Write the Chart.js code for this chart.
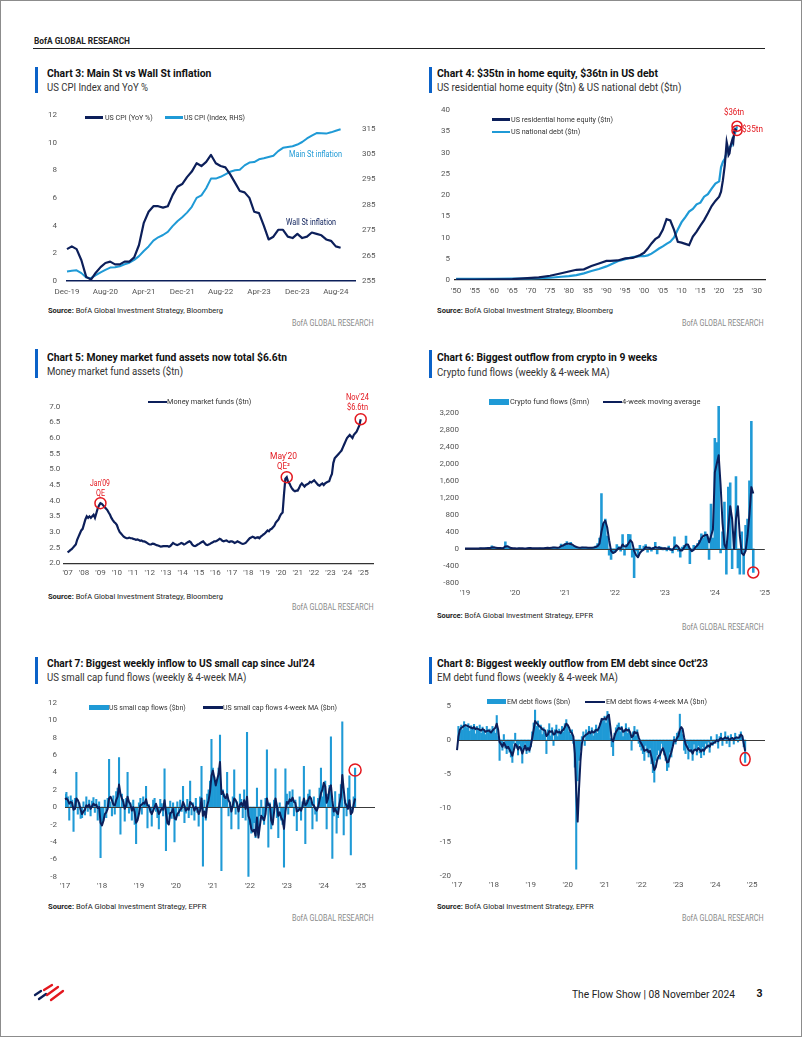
<!DOCTYPE html>
<html><head><meta charset="utf-8">
<script src="https://cdn.jsdelivr.net/npm/chart.js"></script>
<style>
html,body{margin:0;padding:0;background:#fff;}
#page{position:relative;width:802px;height:1037px;overflow:hidden;background:#fff;font-family:'Liberation Sans Narrow',Roboto,sans-serif;}
#frame{position:absolute;left:0;top:0;width:800px;height:1035px;border:1px solid #8c8c8c;z-index:9;pointer-events:none;}
canvas{position:absolute;z-index:1;}
.t{position:absolute;white-space:nowrap;line-height:1;z-index:3;}
.sw{position:absolute;z-index:3;}
</style></head>
<body><div id="page"><div id="frame"></div></div>
<script>
// ---------------- DATA ----------------
// Chart 3: monthly Dec-19 .. Sep-24
const c3TickLabels = ['Dec-19','Aug-20','Apr-21','Dec-21','Aug-22','Apr-23','Dec-23','Aug-24'];
const c3RightTicks = [255,265,275,285,295,305,315];
const c3YoY = [2.3,
 2.5,2.3,1.5,0.3,0.1,0.6,1.0,1.3,1.4,1.2,1.2,1.4,
 1.4,1.7,2.6,4.2,5.0,5.4,5.4,5.3,5.4,6.2,6.8,7.0,
 7.5,7.9,8.5,8.3,8.6,9.1,8.5,8.3,8.2,7.7,7.1,6.5,
 6.4,6.0,5.0,4.9,4.0,3.0,3.2,3.7,3.7,3.2,3.1,3.4,
 3.1,3.2,3.5,3.4,3.3,3.0,2.9,2.5,2.4];
const c3Index = [258.7,
 259.0,259.2,258.1,256.4,256.1,257.3,258.4,259.4,260.3,260.4,260.8,261.6,
 262.2,263.3,264.8,266.8,268.6,270.9,272.2,273.1,274.3,276.6,278.5,280.1,
 281.9,284.2,287.7,288.7,291.5,295.3,295.3,296.0,297.0,298.0,298.6,298.8,
 300.5,301.6,301.8,302.9,303.3,303.8,304.3,306.1,307.4,307.7,308.0,308.7,
 309.7,311.1,312.2,313.2,313.1,313.0,313.5,314.1,314.7];

// Chart 4: $tn
const c4TickYears = [1950,1955,1960,1965,1970,1975,1980,1985,1990,1995,2000,2005,2010,2015,2020,2025,2030];
const c4TickLabels = ["'50","'55","'60","'65","'70","'75","'80","'85","'90","'95","'00","'05","'10","'15","'20","'25","'30"];
const c4Years = [1950,1955,1960,1965,1970,1972,1975,1978,1980,1982,1984,1986,1988,1990,1991,1993,1995,1997,1999,2000,
 2001,2002,2003,2004,2005,2006,2007,2008,2009,2010,2011,2012,2013,2014,2015,2016,2017,2018,2019,
 2020,2020.5,2021,2021.5,2022,2022.25,2022.5,2022.75,2023,2023.25,2023.5,2023.75,2024,2024.25,2024.5,2024.75];
const c4Equity = [0.1,0.12,0.15,0.2,0.5,0.6,1.0,1.6,2.0,2.4,2.5,3.3,3.9,4.5,4.5,4.6,5.1,5.2,5.9,6.4,
 7.4,8.6,9.6,10.2,11.8,14.3,14.0,11.8,9.0,8.8,8.5,8.2,10.2,11.4,12.8,14.1,15.7,17.4,18.6,
 19.6,20.8,23.5,27.0,32.5,31.4,29.4,29.8,31.4,32.2,33.0,32.4,34.9,35.5,35.3,35.2];
const c4Debt = [0.26,0.27,0.29,0.32,0.37,0.43,0.53,0.77,0.91,1.14,1.57,2.12,2.6,3.2,3.6,4.4,4.9,5.4,5.6,5.6,
 5.8,6.2,6.8,7.4,7.9,8.5,9.0,10.0,11.9,13.6,14.8,16.1,16.7,17.8,18.2,19.6,20.2,21.5,22.7,
 23.2,26.5,27.8,28.5,30.0,30.4,30.6,31.2,31.4,31.5,32.3,33.5,34.0,34.6,35.3,36.2];

// Chart 5: monthly Jan-07 .. Nov-24, $tn
const c5StartYear = 2007;
const c5TickYears = [2007,2008,2009,2010,2011,2012,2013,2014,2015,2016,2017,2018,2019,2020,2021,2022,2023,2024,2025];
const c5TickLabels = ["'07","'08","'09","'10","'11","'12","'13","'14","'15","'16","'17","'18","'19","'20","'21","'22","'23","'24","'25"];
const c5MMF = [
 2.35,2.38,2.42,2.45,2.50,2.55,2.60,2.75,2.85,2.95,3.05,3.10,
 3.25,3.40,3.50,3.45,3.50,3.45,3.50,3.55,3.45,3.60,3.75,3.85,
 3.92,3.90,3.85,3.80,3.75,3.70,3.62,3.55,3.45,3.38,3.32,3.28,
 3.22,3.10,3.00,2.95,2.90,2.85,2.82,2.80,2.80,2.82,2.80,2.80,
 2.78,2.77,2.75,2.76,2.74,2.72,2.73,2.70,2.70,2.68,2.65,2.62,
 2.60,2.60,2.63,2.62,2.60,2.58,2.57,2.55,2.53,2.54,2.55,2.55,
 2.55,2.55,2.53,2.55,2.60,2.65,2.62,2.60,2.58,2.60,2.62,2.65,
 2.63,2.60,2.62,2.65,2.68,2.70,2.67,2.60,2.56,2.55,2.57,2.60,
 2.62,2.65,2.68,2.70,2.65,2.60,2.58,2.60,2.62,2.65,2.67,2.70,
 2.70,2.72,2.75,2.78,2.76,2.72,2.70,2.72,2.73,2.70,2.68,2.70,
 2.70,2.68,2.65,2.67,2.70,2.68,2.66,2.63,2.62,2.63,2.65,2.70,
 2.75,2.80,2.82,2.85,2.83,2.80,2.82,2.83,2.80,2.85,2.88,2.92,
 2.95,3.00,3.05,3.02,3.08,3.10,3.15,3.20,3.30,3.35,3.40,3.50,
 3.58,3.62,4.20,4.70,4.75,4.60,4.55,4.45,4.38,4.33,4.30,4.32,
 4.32,4.40,4.50,4.55,4.50,4.45,4.50,4.52,4.55,4.60,4.58,4.62,
 4.65,4.60,4.55,4.50,4.48,4.52,4.55,4.50,4.55,4.58,4.60,4.62,
 4.75,4.85,5.20,5.35,5.40,5.45,5.50,5.55,5.60,5.70,5.80,5.90,
 6.00,6.05,6.10,6.05,6.00,6.10,6.15,6.20,6.30,6.40,6.60];
const c5MarkMonths = [24,160,214]; // Jan'09, May'20, Nov'24

// Chart 6: crypto fund flows ($mn), bi-weekly from Jan-19
const c6TickLabels = ["'19","'20","'21","'22","'23","'24","'25"];
const c6Flows = [
 5,8,6,10,5,12,8,6,15,12,10,20,25,15,70,25,10,15,20,12,30,160,25,10,15,8,
 10,5,15,8,10,5,12,20,15,10,8,12,10,15,8,12,20,25,15,30,40,25,20,30,110,60,
 120,170,80,150,60,40,30,25,20,40,30,20,15,25,30,40,60,120,250,1300,600,700,300,-150,-250,-100,
 -80,100,50,-60,330,-150,100,340,330,-200,-680,-50,-150,80,-40,60,100,-80,40,-60,30,150,-120,50,40,-30,
 20,-50,60,-40,-100,280,50,-60,-200,40,80,300,60,-350,-60,80,40,120,200,350,250,400,300,-250,1050,250,
 2600,2500,3350,-100,400,1100,-600,1450,1550,-470,400,1700,-450,-600,400,-600,550,700,1600,3000,-560];
const c6MA = [
 3,5,6,7,6,8,8,7,10,11,11,14,18,17,30,35,25,15,16,14,18,55,60,35,15,10,
 10,8,10,9,10,8,10,14,15,12,10,11,10,12,10,11,16,20,18,24,30,28,24,28,60,75,
 100,120,115,110,95,60,40,30,25,28,30,27,22,20,24,30,40,60,120,400,600,660,500,200,-50,-100,
 -80,-30,20,10,100,50,60,120,200,150,-50,-150,-200,-100,-50,-20,40,20,20,0,10,40,20,30,10,10,
 10,0,10,-20,-30,40,80,40,-40,-40,30,100,100,0,-60,-30,40,80,150,250,300,320,330,150,300,450,
 1800,2000,2200,1500,600,100,0,500,1000,700,0,700,1000,300,-100,-150,-50,300,800,1450,1300];
const c6YTicks = [-800,-400,0,400,800,1200,1600,2000,2400,2800,3200];

// Chart 7: US small cap flows ($bn), bi-weekly from Jan-17
const c7TickLabels = ["'17","'18","'19","'20","'21","'22","'23","'24","'25"];
const c7Flows = [
 1.5,1.7,1.2,-1.5,1.3,0.8,-2.8,1.0,4.0,-0.8,0.5,-1.3,-1.2,0.6,-0.9,1.2,-0.5,0.8,-1.0,0.7,1.1,-0.6,0.9,-1.5,0.6,-5.8,
 -2.0,-1.5,0.8,-1.2,1.0,5.5,0.6,-1.0,1.3,-0.8,1.8,2.2,5.7,-3.1,1.5,0.9,-1.6,1.0,4.0,-0.7,0.5,-1.5,0.8,-2.0,-4.2,-1.2,
 0.5,1.0,-0.8,1.2,0.6,2.4,-2.4,0.3,-0.6,-2.2,0.8,1.0,-0.5,-1.2,-2.5,0.9,0.4,-1.0,4.4,-5.0,-1.6,-0.8,0.7,-1.3,0.5,-4.0,
 -1.5,0.6,-1.0,0.8,-0.5,2.4,-1.8,-0.7,0.9,-1.2,3.0,-0.9,0.5,-1.5,1.0,-0.6,-2.2,1.2,4.7,-6.8,0.8,-1.5,1.5,2.0,3.0,7.8,
 4.5,3.5,2.5,3.0,4.5,8.3,-7.3,2.0,1.5,0.8,4.0,-1.0,0.5,-2.5,1.2,4.3,-0.8,0.6,-2.5,1.5,0.9,-1.2,2.0,-1.5,8.6,-8.0,
 -2.0,-3.0,-2.5,-1.8,-3.5,2.2,-3.2,-1.0,0.8,-1.5,-2.0,1.0,6.6,-4.6,0.5,-2.5,-1.8,0.8,4.4,-1.2,-3.5,0.5,-1.5,-2.0,-6.9,4.4,
 1.5,-0.8,1.8,0.6,2.0,-1.0,0.8,-2.7,-0.5,1.2,-1.5,0.6,4.7,-4.2,0.8,1.5,2.0,0.6,-2.5,1.2,-0.8,-1.6,1.0,2.2,4.5,1.2,
 2.5,3.0,-2.5,1.5,2.5,8.1,-5.9,-1.0,1.8,-3.0,-1.2,1.5,2.6,9.8,-3.2,0.8,-1.0,2.2,3.6,-5.5,-0.5,1.2,4.5];
const c7MA = [
 0.9,1.0,0.8,0.4,0.6,0.5,-0.3,-0.2,1.0,0.8,0.4,-0.3,-0.8,-0.5,-0.3,0.2,0.1,0.3,-0.2,0.1,0.4,0.2,0.3,-0.1,0.0,-1.8,
 -2.1,-1.6,-0.8,-0.6,-0.2,1.0,1.2,0.8,0.3,0.2,0.8,1.2,2.6,1.5,1.0,0.6,-0.2,0.2,1.2,0.6,0.3,-0.4,0.0,-0.6,-1.8,-1.5,
 -0.8,0.2,0.3,0.5,0.4,0.9,0.2,0.1,-0.4,-0.8,-0.4,0.0,0.4,-0.2,-0.8,-0.5,-0.1,-0.3,0.8,-0.6,-1.8,-2.0,-0.7,-0.6,-0.2,-1.3,
 -1.4,-0.8,-0.6,-0.3,-0.1,0.6,0.2,-0.4,-0.2,-0.3,0.6,0.4,0.2,-0.4,0.0,-0.2,-0.8,-0.4,1.0,-1.0,-0.5,-1.2,0.2,0.8,1.8,3.6,
 4.2,3.4,2.5,3.2,3.8,5.2,1.5,1.8,1.2,1.0,1.5,0.8,0.5,-0.5,0.2,1.0,0.8,0.4,-0.5,0.3,0.5,0.1,0.8,-0.2,1.2,-1.0,
 -1.5,-2.5,-2.8,-2.6,-3.3,-1.2,-3.5,-2.2,-1.0,-1.2,-1.5,-0.8,1.0,0.2,0.3,-1.5,-2.0,-0.6,1.0,0.2,-1.0,-0.6,-1.2,-1.5,-2.5,-0.5,
 0.6,0.4,0.9,0.7,1.1,0.6,0.5,-0.5,-0.4,-0.2,-0.4,0.1,1.0,0.2,0.4,0.8,1.2,1.0,0.3,0.2,-0.2,-0.4,0.0,0.8,1.6,2.0,
 2.8,2.4,0.5,1.0,2.1,2.5,0.8,-0.5,-0.2,-0.6,-0.8,0.4,1.2,3.7,2.0,0.5,0.2,-0.2,0.8,-0.8,-0.6,0.3,1.0];
const c7YTicks = [-8,-6,-4,-2,0,2,4,6,8,10,12];

// Chart 8: EM debt flows ($bn), bi-weekly from Jan-17
const c8TickLabels = ["'17","'18","'19","'20","'21","'22","'23","'24","'25"];
const c8Flows = [
 -1.4,2.0,1.2,2.2,1.5,2.7,2.0,1.8,2.4,1.3,2.1,1.6,2.3,0.9,2.0,1.4,2.2,1.0,1.9,1.5,0.8,2.0,1.2,1.6,1.0,2.0,
 1.5,1.0,3.6,0.5,-3.0,-0.5,-1.5,0.8,-1.2,-2.0,-0.8,-1.8,-2.5,-3.3,-0.5,1.0,-1.2,-2.2,-0.6,-1.5,-3.4,-1.0,-0.5,-2.0,-1.2,-1.8,
 -1.0,1.2,2.5,4.4,2.0,2.8,1.5,2.2,0.8,1.8,1.0,-2.0,1.5,2.4,0.6,1.8,-0.8,1.5,2.2,0.5,1.6,1.0,2.0,1.2,2.4,3.0,
 2.0,1.2,0.8,1.5,-0.5,-4.0,-19.0,-6.0,-3.0,-1.5,0.5,1.2,-0.8,1.5,0.8,2.0,1.0,1.8,0.6,1.5,2.2,1.0,1.8,2.5,3.2,2.8,
 3.5,2.5,4.2,3.8,0.2,-1.0,-2.3,1.0,1.8,2.2,2.5,1.2,2.0,0.5,1.5,2.4,1.0,1.8,0.8,-1.5,1.2,2.0,0.6,1.5,-0.5,-1.0,
 -1.5,-2.0,-3.0,-0.8,-1.8,-2.5,-1.2,-3.5,-4.8,-6.2,-3.0,-2.2,-1.5,-2.8,-0.5,-1.0,-2.2,-3.0,-4.5,-4.0,-1.8,-2.5,-0.8,0.5,-0.6,1.0,
 1.2,3.8,1.5,0.8,-1.5,-2.0,-0.5,-2.8,-1.2,-1.8,-3.0,-0.6,-1.5,-2.2,-0.8,-1.9,-2.6,-1.0,-2.2,-0.5,-1.2,-0.3,-1.8,0.5,-0.8,-0.2,
 -0.5,0.8,-1.2,0.5,1.0,-0.8,0.3,1.2,-0.5,0.6,-1.0,0.8,0.2,-0.6,1.0,0.4,-0.3,0.8,1.2,0.5,-1.0,-3.3];
const c8MA = [
 -1.5,0.5,1.5,1.8,1.9,2.1,2.2,2.1,2.0,1.9,1.8,1.7,1.9,1.6,1.7,1.6,1.5,1.4,1.6,1.5,1.2,1.3,1.4,1.3,1.1,1.4,
 1.6,1.8,2.4,1.5,-0.3,-0.6,-1.0,-0.4,-0.8,-1.2,-1.0,-1.4,-1.8,-2.3,-1.5,-0.6,-0.8,-1.4,-1.0,-1.2,-2.0,-1.4,-0.8,-1.5,-1.2,-1.5,
 -0.8,0.3,1.5,2.8,2.5,2.3,2.0,1.9,1.6,1.5,1.4,0.6,0.8,1.3,1.2,1.3,0.8,0.9,1.4,1.1,1.2,1.0,1.4,1.5,1.9,2.4,
 2.2,1.8,1.2,1.0,0.5,-2.0,-7.5,-12.0,-7.0,-3.0,-0.5,0.4,0.6,0.8,0.9,1.2,1.0,1.3,1.1,1.2,1.5,1.4,1.8,2.4,3.1,3.0,
 3.2,3.0,3.5,3.7,2.0,0.1,-0.2,0.6,1.2,1.5,1.8,1.6,1.8,1.2,1.3,1.6,1.4,1.5,1.1,0.4,0.6,1.2,1.0,1.1,0.4,-0.2,
 -0.6,-1.0,-1.6,-1.5,-1.4,-1.8,-1.6,-2.5,-3.5,-4.4,-4.0,-3.0,-2.4,-2.2,-1.6,-1.2,-1.8,-2.5,-3.3,-3.2,-2.4,-1.8,-1.0,0.0,-0.2,0.3,
 0.6,1.5,1.9,1.6,0.4,-0.6,-1.0,-1.4,-1.6,-1.5,-2.0,-1.5,-1.4,-1.6,-1.2,-1.4,-1.7,-1.4,-1.6,-1.2,-1.0,-0.8,-1.0,-0.5,-0.6,-0.4,
 -0.3,0.0,-0.2,0.1,0.3,0.1,0.2,0.4,0.2,0.3,0.0,0.2,0.3,0.1,0.3,0.4,0.3,0.4,0.8,0.6,-0.5,-1.6];
const c8YTicks = [-20,-15,-10,-5,0,5];

// ---------------- DRAWING ----------------
const NAVY = '#0c1f5a', LIGHT = '#1f9ad6', RED = '#e3171e', TC = '#555', BLUEBAR = '#0b62c8';
const TF = {family: "'Liberation Sans Narrow', Roboto, sans-serif", size: 8};
const page = document.getElementById('page');

function T(s, x, base, size, o = {}) {
  const el = document.createElement('div');
  el.className = 't';
  if (o.html) el.innerHTML = s; else el.textContent = s;
  el.style.fontSize = size + 'px';
  el.style.fontWeight = o.bold ? '700' : '400';
  el.style.color = o.color || '#1a1a1a';
  el.style.top = (base - 0.85 * size) + 'px';
  el.style.left = '0px';
  page.appendChild(el);
  const nat = el.getBoundingClientRect().width;
  const w = o.w || nat;
  let left = x;
  if (o.align === 'right') left = x - w;
  if (o.align === 'center') left = x - w / 2;
  el.style.left = left + 'px';
  if (o.w) { el.style.transformOrigin = '0 0'; el.style.transform = 'scaleX(' + (o.w / nat) + ')'; }
  return el;
}
function R(x, y, w, h, c) {
  const d = document.createElement('div');
  d.className = 'sw';
  Object.assign(d.style, {left: x + 'px', top: y + 'px', width: w + 'px', height: h + 'px', background: c});
  page.appendChild(d);
}
function mk(x, y, w, h) {
  const c = document.createElement('canvas');
  c.width = w; c.height = h;
  Object.assign(c.style, {left: x + 'px', top: y + 'px', width: w + 'px', height: h + 'px'});
  page.appendChild(c);
  return c.getContext('2d');
}
const fixW = w => s => { s.width = w; };
const fixH = h => s => { s.height = h; };
const noGrid = {display: false, drawTicks: false, tickLength: 0};
const baseOpts = {responsive: false, animation: false, devicePixelRatio: 1, events: []};

function marksPlugin(items) {
  return {
    id: 'marks',
    afterDatasetsDraw(chart) {
      const {ctx, scales: {x, y}} = chart;
      items.forEach(m => {
        ctx.save();
        ctx.strokeStyle = RED; ctx.lineWidth = 1.5;
        ctx.beginPath();
        ctx.ellipse(x.getPixelForValue(m.x), y.getPixelForValue(m.y), m.rx, m.ry, 0, 0, Math.PI * 2);
        ctx.stroke();
        ctx.restore();
      });
    }
  };
}
const zeroPlugin = {
  id: 'zero',
  afterDatasetDraw(chart, args) {
    if (args.meta.type !== 'bar') return;
    const {ctx, chartArea: {left, right}, scales: {y}} = chart;
    const py = Math.round(y.getPixelForValue(0)) + 0.5;
    ctx.save();
    ctx.strokeStyle = '#3a3a3a'; ctx.lineWidth = 1.2;
    ctx.beginPath(); ctx.moveTo(left, py); ctx.lineTo(right, py); ctx.stroke();
    ctx.restore();
  }
};

// ---- Chart 3 ----
new Chart(mk(30, 100, 370, 205), {
  type: 'line',
  data: {
    labels: Array.from({length: 61}, (_, i) => i),
    datasets: [
      {data: c3YoY, yAxisID: 'y', borderColor: NAVY, borderWidth: 2.2, pointRadius: 0, tension: 0, borderJoinStyle: 'round'},
      {data: c3Index, yAxisID: 'y1', borderColor: LIGHT, borderWidth: 2, pointRadius: 0, tension: 0, borderJoinStyle: 'round'}
    ]
  },
  options: Object.assign({}, baseOpts, {
    layout: {padding: {top: 9, left: 0, right: 0, bottom: 0}},
    plugins: {legend: {display: false}, tooltip: {enabled: false}},
    scales: {
      x: {type: 'category', offset: false, grid: noGrid, border: {display: true, color: NAVY, width: 1.5},
          ticks: {autoSkip: false, maxRotation: 0, padding: 6, color: TC, font: TF,
                  callback: (v, i) => i % 8 === 0 ? c3TickLabels[i / 8] : ''}, afterFit: fixH(24)},
      y: {position: 'left', min: 0, max: 12, grid: noGrid, border: {display: false},
          ticks: {stepSize: 2, padding: 10, color: TC, font: TF}, afterFit: fixW(37)},
      y1: {position: 'right', min: 255, max: 320.4, grid: noGrid, border: {display: false},
           ticks: {padding: 7, color: TC, font: TF},
           afterBuildTicks: s => { s.ticks = c3RightTicks.map(v => ({value: v})); }, afterFit: fixW(45)}
    }
  })
});

// ---- Chart 4 ----
const c4Last = c4Years.length - 1;
new Chart(mk(430, 100, 345, 205), {
  type: 'line',
  data: {
    datasets: [
      {data: c4Years.map((x, i) => ({x, y: c4Equity[i]})), borderColor: NAVY, borderWidth: 2.2, pointRadius: 0, tension: 0},
      {data: c4Years.map((x, i) => ({x, y: c4Debt[i]})), borderColor: LIGHT, borderWidth: 2.2, pointRadius: 0, tension: 0}
    ]
  },
  options: Object.assign({}, baseOpts, {
    layout: {padding: {top: 10, right: 10, left: 0, bottom: 0}},
    plugins: {legend: {display: false}, tooltip: {enabled: false}},
    scales: {
      x: {type: 'linear', min: 1949.7, max: 2032.2, grid: noGrid, border: {display: true, color: '#222', width: 1.2},
          ticks: {padding: 6, color: TC, font: TF, maxRotation: 0, autoSkip: false,
                  callback: v => c4TickLabels[c4TickYears.indexOf(v)]},
          afterBuildTicks: s => { s.ticks = c4TickYears.map(v => ({value: v})); }, afterFit: fixH(25)},
      y: {min: 0, max: 40, grid: noGrid, border: {display: false},
          ticks: {stepSize: 5, padding: 5, color: TC, font: TF}, afterFit: fixW(25)}
    }
  }),
  plugins: [marksPlugin([
    {x: c4Years[c4Last], y: c4Debt[c4Last], rx: 5, ry: 5},
    {x: c4Years[c4Last], y: c4Equity[c4Last], rx: 5, ry: 5}
  ])]
});

// ---- Chart 5 ----
const c5Points = c5MMF.map((y, i) => ({x: c5StartYear + i / 12, y}));
new Chart(mk(30, 385, 350, 200), {
  type: 'line',
  data: {datasets: [{data: c5Points, borderColor: NAVY, borderWidth: 2.2, pointRadius: 0, tension: 0}]},
  options: Object.assign({}, baseOpts, {
    layout: {padding: {top: 21.7, right: 6.7, left: 0, bottom: 0}},
    plugins: {legend: {display: false}, tooltip: {enabled: false}},
    scales: {
      x: {type: 'linear', min: 2006.74, max: 2025.6, grid: noGrid, border: {display: true, color: '#333', width: 1.2},
          ticks: {padding: 5, color: TC, font: TF, maxRotation: 0, autoSkip: false,
                  callback: v => c5TickLabels[c5TickYears.indexOf(v)]},
          afterBuildTicks: s => { s.ticks = c5TickYears.map(v => ({value: v})); }, afterFit: fixH(21.7)},
      y: {min: 2, max: 7, grid: noGrid, border: {display: false},
          ticks: {stepSize: 0.5, padding: 3, color: TC, font: TF, callback: v => v.toFixed(1)}, afterFit: fixW(33.3)}
    }
  }),
  plugins: [marksPlugin(c5MarkMonths.map(i => ({x: c5Points[i].x, y: c5Points[i].y, rx: 5.5, ry: 5.5})))]
});

// ---- Flow charts (6,7,8) ----
function flowChart(box, o) {
  const last = o.flows.length - 1;
  return new Chart(mk(box[0], box[1], box[2], box[3]), {
    type: 'bar',
    data: {
      labels: Array.from({length: o.slots}, (_, i) => i),
      datasets: [
        {type: 'line', data: o.ma, borderColor: NAVY, borderWidth: 2, pointRadius: 0, tension: 0, order: 0, borderJoinStyle: 'round'},
        {type: 'bar', data: o.flows, backgroundColor: LIGHT, borderWidth: 0, barPercentage: 1, categoryPercentage: 1, order: 1}
      ]
    },
    options: Object.assign({}, baseOpts, {
      layout: {padding: {top: o.top, right: o.right, left: 0, bottom: 0}},
      plugins: {legend: {display: false}, tooltip: {enabled: false}},
      scales: {
        x: {type: 'category', offset: false, grid: Object.assign({offset: false}, noGrid), border: {display: false},
            ticks: {autoSkip: false, maxRotation: 0, padding: o.xPad, color: TC, font: TF,
                    callback: (v, i) => i % 26 === 0 ? o.tickLabels[i / 26] : ''}, afterFit: fixH(o.xH)},
        y: {min: o.min, max: o.max, grid: noGrid, border: {display: false},
            ticks: {padding: o.yPad, color: TC, font: TF, callback: o.fmt},
            afterBuildTicks: s => { s.ticks = o.yTicks.map(v => ({value: v})); }, afterFit: fixW(o.yW)}
      }
    }),
    plugins: [zeroPlugin, marksPlugin([{x: last, y: o.flows[last] * o.markK, rx: o.rx, ry: o.ry}])]
  });
}
flowChart([430, 385, 345, 215], {slots: 157, tickLabels: c6TickLabels, flows: c6Flows, ma: c6MA, min: -800, max: 3600,
  yTicks: c6YTicks, fmt: v => v.toLocaleString('en-US'), yW: 35, yPad: 6, xH: 17.3, xPad: 5, top: 4.8, right: 10, markK: 1, rx: 5.5, ry: 5.5});
flowChart([30, 690, 360, 205], {slots: 219, tickLabels: c7TickLabels, flows: c7Flows, ma: c7MA, min: -8, max: 12,
  yTicks: c7YTicks, fmt: v => String(v), yW: 35, yPad: 8, xH: 18.3, xPad: 4, top: 8.3, right: 15, markK: 0.95, rx: 6, ry: 6});
flowChart([430, 690, 345, 205], {slots: 218, tickLabels: c8TickLabels, flows: c8Flows, ma: c8MA, min: -20, max: 5,
  yTicks: c8YTicks, fmt: v => String(v), yW: 27, yPad: 6, xH: 19, xPad: 4, top: 16, right: 10, markK: 0.85, rx: 5, ry: 6.5});

// ---------------- TEXT & DECORATION ----------------
T('BofA GLOBAL RESEARCH', 34, 44.5, 8.5, {bold: 1, w: 96, color: '#222'});
R(33, 47.5, 732, 1.5, '#222');

// blue title bars
R(35, 66.7, 3.3, 26.6, BLUEBAR); R(429, 66.7, 3, 26.6, BLUEBAR);
R(35, 348.5, 3.3, 29, BLUEBAR); R(429, 349.5, 3, 28.5, BLUEBAR);
R(35, 656.5, 3.3, 27, BLUEBAR); R(429, 656.5, 3, 27, BLUEBAR);

// titles
T('Chart 3: Main St vs Wall St inflation', 47.3, 78.3, 11.7, {bold: 1, w: 164.4, color: '#111'});
T('Chart 4: $35tn in home equity, $36tn in US debt', 437.3, 78.3, 11.7, {bold: 1, w: 221, color: '#111'});
T('Chart 5: Money market fund assets now total $6.6tn', 47.3, 361.7, 11.7, {bold: 1, w: 240, color: '#111'});
T('Chart 6: Biggest outflow from crypto in 9 weeks', 437.3, 361.7, 11.7, {bold: 1, w: 220.4, color: '#111'});
T("Chart 7: Biggest weekly inflow to US small cap since Jul'24", 47.3, 668.3, 11.7, {bold: 1, w: 267.7, color: '#111'});
T("Chart 8: Biggest weekly outflow from EM debt since Oct'23", 437.3, 668.3, 11.7, {bold: 1, w: 271, color: '#111'});
// subtitles
T('US CPI Index and YoY %', 47.3, 91.7, 11.7, {w: 101, color: '#333'});
T('US residential home equity ($tn) & US national debt ($tn)', 437.3, 91.7, 11.7, {w: 244.4, color: '#333'});
T('Money market fund assets ($tn)', 47.3, 376, 11.7, {w: 136, color: '#333'});
T('Crypto fund flows (weekly & 4-week MA)', 437.3, 376.7, 11.7, {w: 172.7, color: '#333'});
T('US small cap fund flows (weekly & 4-week MA)', 47.3, 681.7, 11.7, {w: 199.4, color: '#333'});
T('EM debt fund flows (weekly & 4-week MA)', 437.3, 681.7, 11.7, {w: 181, color: '#333'});

// sources
const SB = '<b>Source:</b> BofA Global Investment Strategy, ';
T(SB + 'Bloomberg', 48.3, 313.3, 8, {html: 1, w: 175, color: '#222'});
T(SB + 'Bloomberg', 437.3, 313.3, 8, {html: 1, w: 176, color: '#222'});
T(SB + 'Bloomberg', 48.3, 599.3, 8, {html: 1, w: 175, color: '#222'});
T(SB + 'EPFR', 437.3, 618.3, 8, {html: 1, w: 156, color: '#222'});
T(SB + 'EPFR', 48.3, 910, 8, {html: 1, w: 158.4, color: '#222'});
T(SB + 'EPFR', 437.3, 910, 8, {html: 1, w: 156.7, color: '#222'});
[[373.3, 326], [763.3, 326], [373.3, 610.7], [763.3, 630], [373.3, 921.7], [763.3, 921.7]].forEach(p =>
  T('BofA GLOBAL RESEARCH', p[0], p[1], 8.5, {w: 81.6, align: 'right', color: '#8a8a8a'}));

// legends
const LS = 7.5, LC = '#333';
R(85, 116, 18.3, 2.5, NAVY); T('US CPI (YoY %)', 105, 120, LS, {w: 47.7, color: LC});
R(165, 116, 18.3, 2.5, LIGHT); T('US CPI (Index, RHS)', 184, 120, LS, {w: 61, color: LC});
R(491.7, 118, 18.3, 2.5, NAVY); T('US residential home equity ($tn)', 510.7, 122, LS, {w: 102, color: LC});
R(491.7, 130.5, 18.3, 2.5, LIGHT); T('US national debt ($tn)', 510.7, 134.4, LS, {w: 69.3, color: LC});
R(148.3, 400.5, 18.4, 2.5, NAVY); T('Money market funds ($tn)', 167.3, 404.4, LS, {w: 84.4, color: LC});
R(489.3, 399.3, 20, 5.7, LIGHT); T('Crypto fund flows ($mn)', 510, 404.7, LS, {w: 79.3, color: LC});
R(602.7, 400.8, 19, 2.5, NAVY); T('4-week moving average', 622.3, 404.7, LS, {w: 78.4, color: LC});
R(89.3, 705, 19.7, 5.3, LIGHT); T('US small cap flows ($bn)', 109.3, 710, LS, {w: 76.7, color: LC});
R(203.3, 706.2, 19.4, 2.5, NAVY); T('US small cap flows 4-week MA ($bn)', 223.3, 710, LS, {w: 114, color: LC});
R(486.7, 699.3, 19.3, 4.9, LIGHT); T('EM debt flows ($bn)', 506.7, 704.4, LS, {w: 63.3, color: LC});
R(585, 700.5, 20, 2.5, NAVY); T('EM debt flows 4-week MA ($bn)', 605.7, 704.4, LS, {w: 101, color: LC});

// chart annotations
T('Main St inflation', 289, 157, 8.5, {w: 53, color: LIGHT});
T('Wall St inflation', 286, 225, 8.5, {w: 50, color: NAVY});
T('$36tn', 734, 115, 8.5, {align: 'center', w: 20, color: RED});
T('$35tn', 741.7, 132.3, 8.5, {w: 21, color: RED});
T("Jan'09", 100, 486, 8.5, {align: 'center', w: 20, color: RED});
T('QE', 100, 496.3, 8.5, {align: 'center', w: 9, color: RED});
T("May'20", 283, 459.7, 8.5, {align: 'center', w: 27, color: RED});
T('QE²', 283, 469.7, 8.5, {align: 'center', w: 13, color: RED});
T("Nov'24", 357, 400.3, 8.5, {align: 'center', w: 23, color: RED});
T('$6.6tn', 357, 410, 8.5, {align: 'center', w: 21, color: RED});

// footer
T('The Flow Show | 08 November 2024', 735, 998, 10, {w: 163, align: 'right', color: '#222'});
T('3', 756.5, 998, 10.5, {bold: 1, color: '#111'});
const logo = document.createElementNS('http://www.w3.org/2000/svg', 'svg');
logo.setAttribute('width', '36'); logo.setAttribute('height', '22');
Object.assign(logo.style, {position: 'absolute', left: '32px', top: '982px', zIndex: 3});
logo.innerHTML =
  '<g stroke-linecap="round" stroke-width="2.3">' +
  '<line x1="3" y1="13" x2="9" y2="9" stroke="#0c1f5a"/>' +
  '<line x1="7" y1="17" x2="14" y2="12" stroke="#0c1f5a"/>' +
  '<line x1="12" y1="8" x2="20" y2="3" stroke="#e3171e"/>' +
  '<line x1="15" y1="13" x2="26" y2="5" stroke="#e3171e"/>' +
  '<line x1="19" y1="18" x2="31" y2="9" stroke="#e3171e"/>' +
  '</g>';
page.appendChild(logo);
</script>
</body></html>
